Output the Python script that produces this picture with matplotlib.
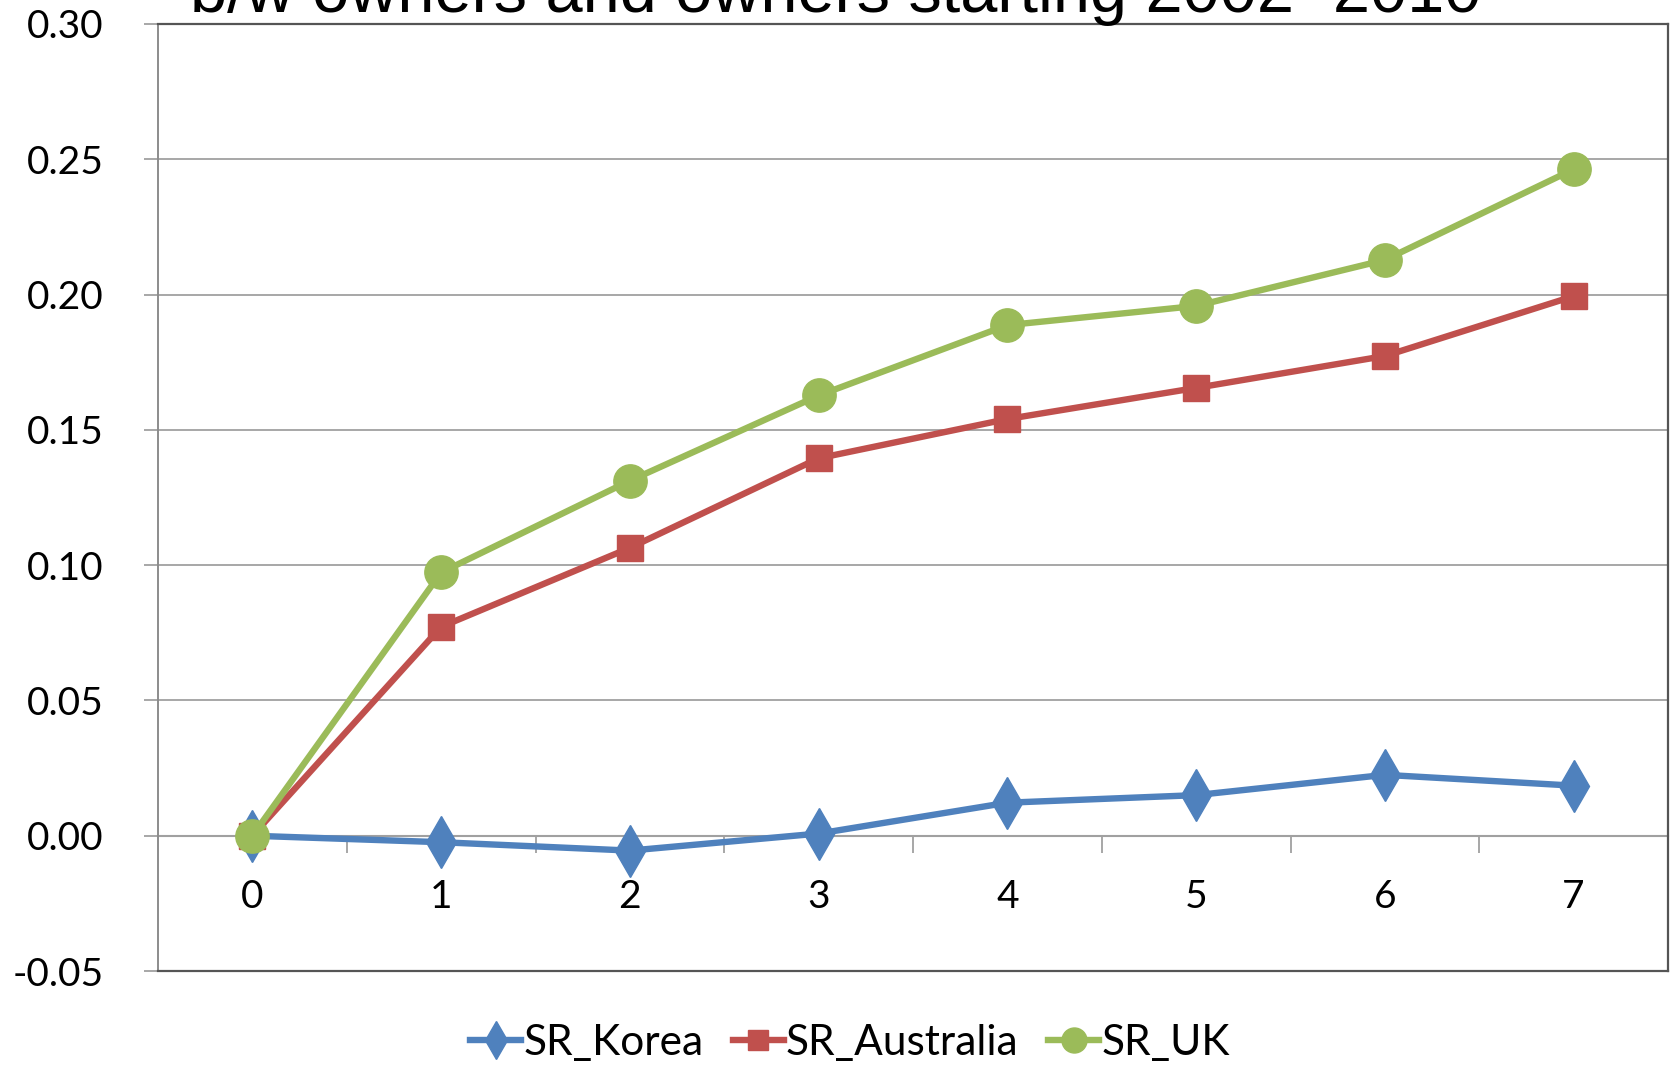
import matplotlib
matplotlib.use("Agg")
import matplotlib.pyplot as plt
from matplotlib.ticker import MultipleLocator, FixedLocator, NullFormatter, FormatStrFormatter

# Years since start of ownership
years = [0, 1, 2, 3, 4, 5, 6, 7]
year_labels = ["0", "1", "2", "3", "4", "5", "6", "7"]

sr_korea = [0.0, -0.0024, -0.0055, 0.0008, 0.0122, 0.0150, 0.0225, 0.0185]
sr_australia = [0.0, 0.0772, 0.1064, 0.1395, 0.1540, 0.1655, 0.1773, 0.1994]
sr_uk = [0.0, 0.0973, 0.1312, 0.1627, 0.1887, 0.1958, 0.2128, 0.2463]

series_names = ["SR_Korea", "SR_Australia", "SR_UK"]
title_text = "b/w owners and owners starting 2002~2010"

W, H = 1672, 1067
fig = plt.figure(figsize=(W / 100, H / 100), dpi=100)
fig.patch.set_facecolor("white")

tick_font = "Lato"
grid_grey = "#a0a0a0"
ax = fig.add_axes([158 / W, 1 - 971 / H, (1668 - 158) / W, (971 - 24) / H])

ax.set_xlim(-0.5, 7.5)
ax.set_ylim(-0.05, 0.30)

lw = 4.6
ax.plot(years, sr_korea, color="#4F81BD", lw=lw, marker="d", ms=26,
        mec="#4F81BD", label=series_names[0], zorder=3)
ax.plot(years, sr_australia, color="#C0504D", lw=lw, marker="s", ms=19,
        mec="#C0504D", label=series_names[1], zorder=4)
ax.plot(years, sr_uk, color="#9BBB59", lw=lw, marker="o", ms=24,
        mec="#9BBB59", label=series_names[2], zorder=5)

# Horizontal gridlines
ax.yaxis.set_major_locator(MultipleLocator(0.05))
ax.yaxis.set_major_formatter(FormatStrFormatter("%.2f"))
ax.grid(axis="y", color=grid_grey, lw=1.3, zorder=0)
ax.tick_params(axis="y", direction="out", length=10, width=1.3, color=grid_grey,
               pad=29, labelsize=28)
for lbl in ax.get_yticklabels():
    lbl.set_fontfamily(tick_font)

# Frame
for side in ["right", "top", "bottom"]:
    ax.spines[side].set_color("#555555")
    ax.spines[side].set_linewidth(1.6)
ax.spines["left"].set_color("#8c8c8c")
ax.spines["left"].set_linewidth(1.4)

ax.set_xticks([])

# Category axis running along y = 0
zero_frac = (0 - (-0.05)) / (0.30 - (-0.05))
cat = ax.secondary_xaxis(zero_frac)
cat.spines["bottom"].set_color(grid_grey)
cat.spines["bottom"].set_linewidth(1.5)
cat.set_xticks(years)
cat.set_xticklabels(year_labels)
cat.xaxis.set_minor_locator(FixedLocator([y + 0.5 for y in years[:-1]]))
cat.xaxis.set_minor_formatter(NullFormatter())
cat.tick_params(axis="x", which="major", length=0, pad=31, labelsize=28)
cat.tick_params(axis="x", which="minor", length=12, width=1.3, color=grid_grey,
                direction="out")
for lbl in cat.get_xticklabels():
    lbl.set_fontfamily(tick_font)

# Legend below the plot
leg = fig.legend(loc="center", bbox_to_anchor=(850 / W, 1 - 1043 / H), ncol=3,
                 frameon=False, handlelength=1.2, handletextpad=0.05,
                 columnspacing=0.7, markerscale=0.75,
                 prop={"family": tick_font, "size": 30.5})

# Title running off the top edge
fig.text(190 / W, 1 - 12 / H, title_text, fontsize=48, family="Liberation Sans",
         ha="left", va="baseline", color="black")

fig.savefig("out.png", dpi=100, facecolor="white")
